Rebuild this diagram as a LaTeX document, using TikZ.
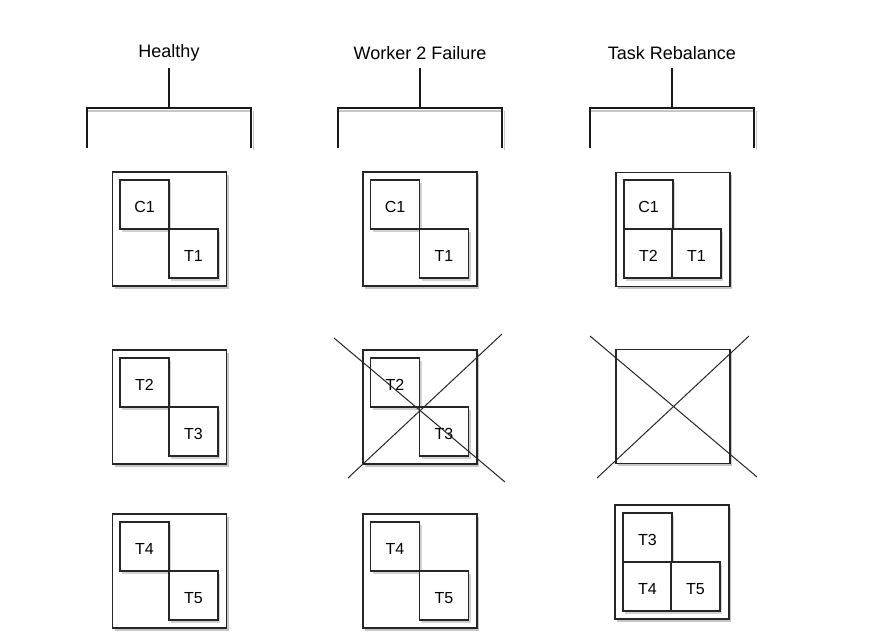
\documentclass[tikz,border=0pt]{standalone}
\usepackage{fontspec}
\setmainfont{Liberation Sans}
\usetikzlibrary{shadows}
\begin{document}
\begin{tikzpicture}[x=1pt,y=-1pt,
  outerbox/.style={draw=black!85,line width=1.1pt,fill=white,minimum width=114pt,minimum height=114pt,inner sep=0pt,
    drop shadow={shadow xshift=2pt,shadow yshift=-2.5pt,fill=black!22,opacity=1}},
  taskbox/.style={draw=black!85,line width=1.1pt,fill=white,minimum width=49pt,minimum height=49pt,inner sep=0pt,
    font=\fontsize{16}{18}\selectfont,text height=15pt,text depth=0pt,
    drop shadow={shadow xshift=2pt,shadow yshift=-2.5pt,fill=black!18,opacity=1}},
  title/.style={font=\fontsize{18}{20}\selectfont,inner sep=0pt},
  bracket/.style={line width=2.4pt,black!90,line cap=butt},
  crossline/.style={line width=1pt,black!85}]
\useasboundingbox (0,0) rectangle (872,638);

% titles and brackets
\foreach \n/\cx/\t in {h/169/Healthy,f/420/Worker 2 Failure,r/672/Task Rebalance}{
  \node[title] (title-\n) at (\cx,53) {\t};
  \coordinate (stem-\n) at (\cx,68);
  \coordinate (mid-\n) at (\cx,108);
  \draw[black!22,line width=2pt] (\cx-81,111) -- (\cx+83,111);
  \draw[black!22,line width=1.5pt] (\cx+84.5,111) -- (\cx+84.5,150);
  \draw[bracket] (stem-\n) -- (mid-\n);
  \draw[bracket] (\cx-82,148) -- (\cx-82,108) -- (\cx+82,108) -- (\cx+82,148);
}

% column 1: Healthy
\node[outerbox] (h1) at (169.5,229) {};
\node[taskbox] (h1a) at (144.5,204.5) {C1};
\node[taskbox] (h1b) at (193.5,253.5) {T1};
\node[outerbox] (h2) at (169.5,407) {};
\node[taskbox] (h2a) at (144.5,382.5) {T2};
\node[taskbox] (h2b) at (193.5,431.5) {T3};
\node[outerbox] (h3) at (169.5,571) {};
\node[taskbox] (h3a) at (144.5,546.5) {T4};
\node[taskbox] (h3b) at (193.5,595.5) {T5};

% column 2: Worker 2 Failure
\node[outerbox] (f1) at (420,229) {};
\node[taskbox] (f1a) at (395,204.5) {C1};
\node[taskbox] (f1b) at (444,253.5) {T1};
\node[outerbox] (f2) at (420,407) {};
\node[taskbox] (f2a) at (395,382.5) {T2};
\node[taskbox] (f2b) at (444,431.5) {T3};
\node[outerbox] (f3) at (420,571) {};
\node[taskbox] (f3a) at (395,546.5) {T4};
\node[taskbox] (f3b) at (444,595.5) {T5};
\coordinate (fx1) at (334,338);
\coordinate (fx2) at (505,482);
\coordinate (fx3) at (502,334);
\coordinate (fx4) at (348,478);
\draw[crossline] (fx1) -- (fx2);
\draw[crossline] (fx3) -- (fx4);

% column 3: Task Rebalance
\node[outerbox] (r1) at (673,229.5) {};
\node[taskbox] (r1a) at (648.5,204.5) {C1};
\node[taskbox] (r1c) at (648.5,253.5) {T2};
\node[taskbox] (r1b) at (696.5,253.5) {T1};
\node[outerbox] (r2) at (673,406.5) {};
\coordinate (rx1) at (590,336);
\coordinate (rx2) at (757,477);
\coordinate (rx3) at (749,336);
\coordinate (rx4) at (597,478);
\draw[crossline] (rx1) -- (rx2);
\draw[crossline] (rx3) -- (rx4);
\node[outerbox] (r3) at (672,562) {};
\node[taskbox] (r3a) at (647.5,537.5) {T3};
\node[taskbox] (r3c) at (647.5,586.5) {T4};
\node[taskbox] (r3b) at (695.5,586.5) {T5};
\end{tikzpicture}
\end{document}
